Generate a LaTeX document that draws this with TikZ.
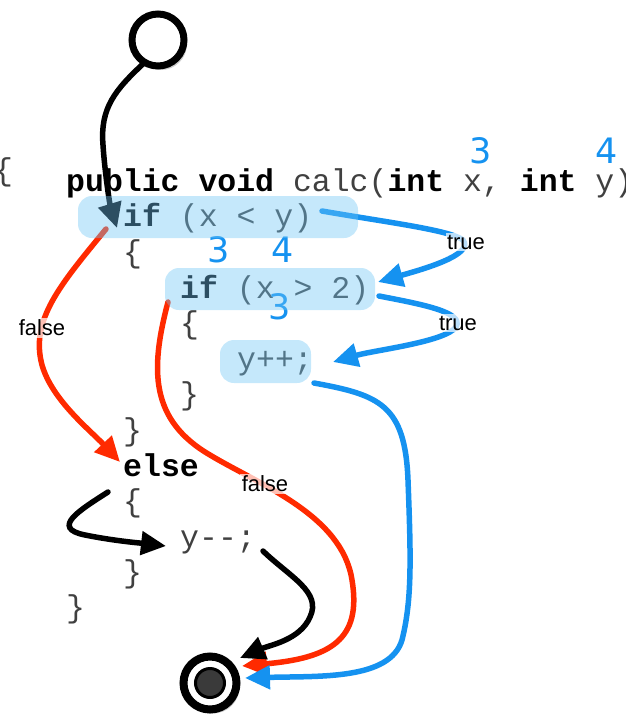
\documentclass[tikz,border=0pt]{standalone}
\usepackage{fontspec}
\setmonofont{Liberation Mono}
\newfontfamily\labelfont{Liberation Sans}
\newfontfamily\digitfont{DejaVu Sans}
\usetikzlibrary{arrows.meta,shadows}
\definecolor{fred}{HTML}{FF2A00}
\definecolor{fblue}{HTML}{1592F0}
\definecolor{hlblue}{RGB}{110,197,245}
\definecolor{enddot}{HTML}{3A3A3A}
\tikzset{
  code/.style={anchor=base west,inner sep=0pt,font=\ttfamily\fontsize{31.5}{31.5}\selectfont,text=black!75},
  hl/.style={fill=hlblue,fill opacity=0.4,draw=none,rounded corners=14pt},
  flow/.style={line width=5.5pt,line cap=round,-{Triangle[length=25pt,width=23pt]}},
  blk/.style={flow,draw=black},
  redf/.style={flow,draw=fred},
  bluef/.style={flow,draw=fblue},
  lbl/.style={font=\labelfont\fontsize{22}{22}\selectfont,fill=white,fill opacity=0.7,text opacity=1,inner sep=1.5pt},
  num/.style={font=\digitfont\fontsize{35}{35}\selectfont,text=fblue,inner sep=0pt},
}
\newcommand{\kwd}[1]{\textbf{\color{black}#1}}
\begin{document}
\begin{tikzpicture}[x=1pt,y=-1pt]
\useasboundingbox (0,0) rectangle (625,715);
% code text
\node[code] (brace0) at (-6,180) {\{};
\node[code] (sig) at (66,191) {\kwd{public void} calc(\kwd{int} x, \kwd{int} y)};
\node[code] (if1) at (123,226) {\kwd{if} (x < y)};
\node[code] (ob1) at (123,262) {\{};
\node[code] (if2) at (180,298) {\kwd{if} (x > 2)};
\node[code] (ob2) at (180,333) {\{};
\node[code] (inc) at (237,369) {y++;};
\node[code] (cb2) at (180,404) {\}};
\node[code] (cb1) at (123,440) {\}};
\node[code] (els) at (123,476) {\kwd{else}};
\node[code] (ob3) at (123,511) {\{};
\node[code] (dec) at (180,547) {y-{}-;};
\node[code] (cb3) at (123,582) {\}};
\node[code] (cb0) at (66,617) {\}};
% digits
\node[num] (d1) at (481,151) {3};
\node[num] (d2) at (607,151) {4};
\node[num] (d3) at (219,250) {3};
\node[num] (d4) at (283,250) {4};
\node[num] (d5) at (280,307) {3};
% start and end states
\node[circle,draw=black,line width=7pt,fill=white,minimum size=52pt,inner sep=0pt,drop shadow={opacity=0.4,shadow xshift=3pt,shadow yshift=-4pt}] (start) at (158,40) {};
\node[circle,draw=black,line width=8pt,fill=white,minimum size=53pt,inner sep=0pt,drop shadow={opacity=0.4,shadow xshift=3pt,shadow yshift=-4pt}] (end) at (210,683) {};
\node[circle,draw=black,line width=3pt,fill=enddot,minimum size=29pt,inner sep=0pt] (enddot) at (end) {};
% coordinates
\coordinate (a1s) at (144,63);
\coordinate (a1e) at (117,228);
\coordinate (r1s) at (106,229);
\coordinate (r1e) at (120,462);
\coordinate (b1s) at (322,211);
\coordinate (b1e) at (378,282);
\coordinate (b2s) at (379,296);
\coordinate (b2e) at (333,362);
\coordinate (r2s) at (168,302);
\coordinate (r2e) at (242,666);
\coordinate (b3s) at (314,383);
\coordinate (b3e) at (245,678);
\coordinate (k1s) at (108,492);
\coordinate (k1e) at (166,546);
\coordinate (k2s) at (263,551);
\coordinate (k2e) at (240,658);
% connectors
\draw[blk] (a1s) .. controls (115,90) and (100,108) .. (103,145) .. controls (105,175) and (110,205) .. (a1e);
\draw[redf] (r1s) .. controls (60,285) and (30,320) .. (42,365) .. controls (52,400) and (90,430) .. (r1e);
\node[lbl] (f1) at (42,328) {false};
\draw[bluef] (b1s) .. controls (385,222) and (450,230) .. (463,240) .. controls (475,255) and (420,270) .. (b1e);
\node[lbl] (t1) at (466,242) {true};
\draw[bluef] (b2s) .. controls (420,304) and (465,312) .. (456,327) .. controls (445,342) and (375,350) .. (b2e);
\node[lbl] (t2) at (458,323) {true};
\draw[redf] (r2s) .. controls (150,370) and (150,420) .. (210,455) .. controls (260,485) and (342,515) .. (352,580) .. controls (362,640) and (330,658) .. (r2e);
\node[lbl] (f2) at (265,484) {false};
\draw[bluef] (b3s) .. controls (380,395) and (405,405) .. (408,480) .. controls (411,560) and (412,600) .. (402,640) .. controls (390,680) and (320,676) .. (b3e);
\draw[blk] (k1s) .. controls (80,510) and (50,528) .. (85,535) .. controls (115,541) and (140,543) .. (k1e);
\draw[blk] (k2s) .. controls (290,577) and (322,592) .. (310,617) .. controls (300,640) and (270,645) .. (k2e);
% highlight overlays
\fill[hl] (78,196) rectangle (358,238);
\fill[hl] (165,268) rectangle (375,310);
\fill[hl] (220,340) rectangle (311,383);
\end{tikzpicture}
\end{document}
